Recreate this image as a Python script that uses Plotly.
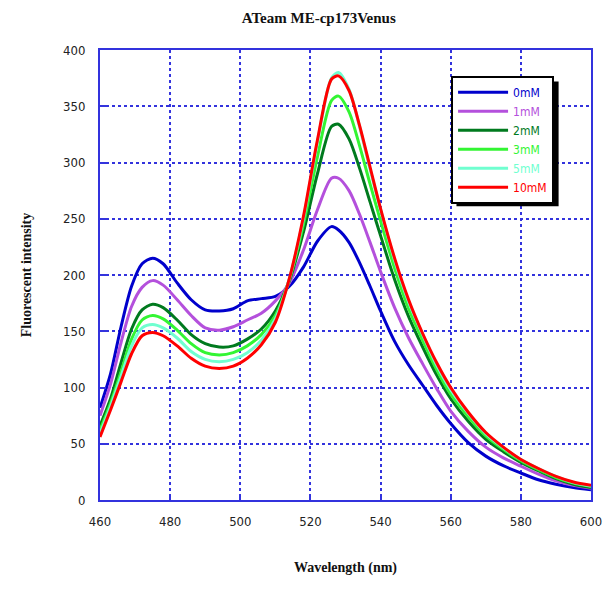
import plotly.graph_objects as go

wavelength = [460, 463, 466, 469, 472, 475, 478, 482, 486, 490, 494, 498, 502, 506, 510,
              514, 518, 522, 526, 528, 531, 534, 537, 540, 544, 548, 552, 556, 560, 565,
              570, 575, 580, 585, 590, 595, 600]

mM0 = [82, 112, 154, 190, 210, 215, 210, 193, 178, 169, 168, 170, 177, 179, 181,
       190, 207, 230, 243, 240, 229, 211, 190, 168, 141, 120, 102, 84, 68, 51,
       39, 30.5, 24, 18, 14, 11, 9]
mM1 = [75, 103, 140, 172, 189, 195, 191, 178, 164, 153, 151, 154, 160, 166, 177,
       193, 222, 258, 286, 286, 275, 254, 229, 203, 171, 144, 121, 99, 79, 61,
       47, 37.5, 30, 23, 17, 13, 10.5]
mM2 = [66, 90, 122, 152, 169, 174, 171, 160, 147, 139, 136, 137, 143, 152, 168,
       195, 238, 290, 332, 334, 321, 295, 265, 235, 196, 163, 136, 111, 90, 70,
       54, 43, 33.5, 26, 19, 14, 11]
mM3 = [62, 86, 114, 143, 160, 164, 161, 151, 139, 131, 129, 131, 137, 147, 164,
       196, 245, 305, 355, 359, 345, 315, 281, 248, 206, 170, 142, 116, 94, 74,
       57, 45, 35, 27, 20, 15, 12]
mM5 = [59, 83, 110, 137, 153, 156, 153, 144, 132, 125, 123, 125, 131, 142, 161,
       197, 250, 318, 375, 380, 365, 332, 294, 258, 213, 176, 147, 120, 98, 77,
       59, 46.5, 36, 28, 21, 15.5, 12.5]
mM10 = [56, 80, 105, 130, 146, 149, 146, 137, 126, 119, 117, 119, 126, 138, 158,
        197, 252, 320, 374, 377, 364, 333, 296, 259, 215, 178, 148, 122, 100, 78,
        60, 47, 36, 28, 21, 16, 13]

series_names = ["0mM", "1mM", "2mM", "3mM", "5mM", "10mM"]
series_values = [mM0, mM1, mM2, mM3, mM5, mM10]
series_colors = ["#0000CC", "#B450DC", "#007A1E", "#33F533", "#70FFD0", "#FF0000"]

x_ticks = [460, 480, 500, 520, 540, 560, 580, 600]
y_ticks = [0, 50, 100, 150, 200, 250, 300, 350, 400]

tick_font = dict(family="Liberation Sans Narrow, DejaVu Sans Condensed, Arial Narrow, sans-serif",
                 size=13, color="#222222")
title_font = dict(family="Liberation Serif, Times New Roman, serif", size=14, color="#111111")

fig = go.Figure()
for name, vals, col in zip(series_names, series_values, series_colors):
    fig.add_trace(go.Scatter(
        x=wavelength, y=vals, mode="lines",
        name=f"<span style='color:{col}'>{name}</span>",
        line=dict(color=col, width=3, shape="spline", smoothing=0.8),
    ))

axis_blue = "#3333DD"
fig.update_xaxes(
    range=[460, 600], tickvals=x_ticks, ticktext=[str(v) for v in x_ticks],
    showline=True, linecolor=axis_blue, linewidth=2, mirror=True,
    showgrid=True, gridcolor=axis_blue, gridwidth=1.5, griddash="dot",
    ticks="inside", ticklen=6, tickcolor=axis_blue, tickwidth=1.5,
    tickfont=tick_font, zeroline=False, ticklabelstandoff=8,
    title=dict(text="<b>Wavelength (nm)</b>", font=title_font, standoff=35),
)
fig.update_yaxes(
    range=[0, 400], tickvals=y_ticks, ticktext=[str(v) for v in y_ticks],
    showline=True, linecolor=axis_blue, linewidth=2, mirror=True,
    showgrid=True, gridcolor=axis_blue, gridwidth=1.5, griddash="dot",
    ticks="inside", ticklen=6, tickcolor=axis_blue, tickwidth=1.5,
    tickfont=tick_font, zeroline=False, ticklabelstandoff=10,
    title=dict(text="<b>Fluorescent intensity</b>", font=title_font, standoff=28),
)

# legend shadow
fig.add_shape(type="rect", xref="paper", yref="paper",
              x0=0.726, x1=0.934, y0=0.653, y1=0.930,
              fillcolor="black", line=dict(width=0), layer="above")

fig.update_layout(
    width=613, height=607,
    margin=dict(l=100, r=22, t=50, b=107),
    paper_bgcolor="white", plot_bgcolor="white",
    title=dict(text="<b>ATeam ME-cp173Venus</b>", font=dict(family="Liberation Serif, Times New Roman, serif", size=15, color="#111111"),
               x=0.52, xanchor="center", y=0.97, yanchor="middle"),
    legend=dict(x=0.715, y=0.943, xanchor="left", yanchor="top",
                bgcolor="white", bordercolor="black", borderwidth=2,
                font=dict(family="Liberation Sans Narrow, DejaVu Sans Condensed, sans-serif", size=12),
                itemwidth=50, tracegroupgap=0),
    showlegend=True,
)

fig.write_html("out.html")
